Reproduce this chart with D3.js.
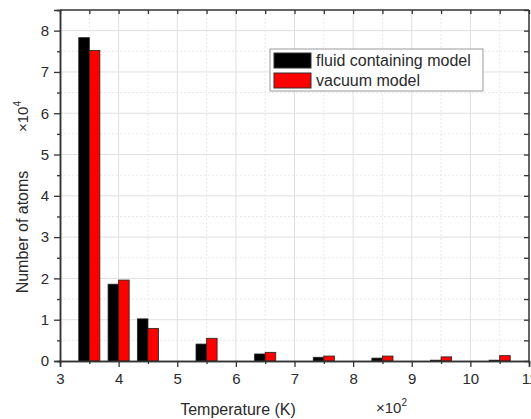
<!DOCTYPE html>
<html>
<head>
<meta charset="utf-8">
<script src="https://cdn.jsdelivr.net/npm/d3@7"></script>
<style>
  body { margin: 0; background: #fff; }
  text { font-family: "Liberation Sans", Arial, sans-serif; fill: #2a2a2a; }
</style>
</head>
<body>
<svg id="chart" width="531" height="419"></svg>
<script>
// bin centers (x100 K) and atom counts (x10^4)
const temps = [3.5, 4.0, 4.5, 5.5, 6.5, 7.5, 8.5, 9.5, 10.5]
const fluid = [7.83, 1.86, 1.02, 0.41, 0.17, 0.09, 0.07, 0.02, 0.02]
const vacuum = [7.52, 1.96, 0.79, 0.55, 0.21, 0.12, 0.12, 0.10, 0.13]
const xTicks = [3, 4, 5, 6, 7, 8, 9, 10, 11]
const yTicks = [0, 1, 2, 3, 4, 5, 6, 7, 8]
const seriesNames = ["fluid containing model", "vacuum model"]
const seriesColors = ["#000000", "#ff0000"]

const svg = d3.select("#chart")
const mLeft = 60, mRight = 529, mTop = 10, mBottom = 361

const x = d3.scaleLinear().domain([3, 11]).range([mLeft, mRight])
const y = d3.scaleLinear().domain([0, 8.5]).range([mBottom, mTop])

const minorX = d3.range(3.5, 11, 1)
const minorY = d3.range(0.5, 8.5, 1)

// grid
const grid = svg.append("g")
grid.selectAll(".gxm").data(minorX).join("line")
  .attr("x1", d => x(d)).attr("x2", d => x(d)).attr("y1", mTop).attr("y2", mBottom)
  .attr("stroke", "#e8e8e8").attr("stroke-dasharray", "2,2")
grid.selectAll(".gym").data(minorY).join("line")
  .attr("y1", d => y(d)).attr("y2", d => y(d)).attr("x1", mLeft).attr("x2", mRight)
  .attr("stroke", "#e8e8e8").attr("stroke-dasharray", "2,2")
grid.selectAll(".gx").data(xTicks.slice(1, -1)).join("line")
  .attr("x1", d => x(d)).attr("x2", d => x(d)).attr("y1", mTop).attr("y2", mBottom)
  .attr("stroke", "#e0e0e0")
grid.selectAll(".gy").data(yTicks.slice(1)).join("line")
  .attr("y1", d => y(d)).attr("y2", d => y(d)).attr("x1", mLeft).attr("x2", mRight)
  .attr("stroke", "#e0e0e0")

// bars
const bw = 0.18
const bars = svg.append("g")
bars.selectAll(".b0").data(temps).join("rect")
  .attr("x", d => x(d - bw)).attr("width", x(bw) - x(0))
  .attr("y", (d, i) => y(fluid[i])).attr("height", (d, i) => y(0) - y(fluid[i]))
  .attr("fill", seriesColors[0]).attr("stroke", "#222").attr("stroke-width", 0.8)
bars.selectAll(".b1").data(temps).join("rect")
  .attr("x", d => x(d)).attr("width", x(bw) - x(0))
  .attr("y", (d, i) => y(vacuum[i])).attr("height", (d, i) => y(0) - y(vacuum[i]))
  .attr("fill", seriesColors[1]).attr("stroke", "#222").attr("stroke-width", 0.8)

// axes
const axColor = "#333"
const xAx = svg.append("g").attr("transform", `translate(0,${mBottom})`)
  .call(d3.axisBottom(x).tickValues(xTicks).tickSize(6).tickPadding(6).tickFormat(d3.format("d")))
const xAxMinor = svg.append("g").attr("transform", `translate(0,${mBottom})`)
  .call(d3.axisBottom(x).tickValues(minorX).tickSize(3).tickFormat(""))
const yAx = svg.append("g").attr("transform", `translate(${mLeft},0)`)
  .call(d3.axisLeft(y).tickValues(yTicks).tickSize(6).tickPadding(5).tickFormat(d3.format("d")))
const yAxMinor = svg.append("g").attr("transform", `translate(${mLeft},0)`)
  .call(d3.axisLeft(y).tickValues(minorY).tickSize(3).tickFormat(""))
const topAx = svg.append("g").attr("transform", `translate(0,${mTop})`)
  .call(d3.axisBottom(x).tickValues(d3.range(3, 11.01, 0.5)).tickSize(4).tickFormat(""))
const rightAx = svg.append("g").attr("transform", `translate(${mRight},0)`)
  .call(d3.axisLeft(y).tickValues(d3.range(0, 8.51, 0.5)).tickSize(5).tickFormat(""))

svg.selectAll(".domain").attr("stroke", axColor).attr("stroke-width", 1.5)
svg.selectAll(".tick line").attr("stroke", axColor).attr("stroke-width", 1.3)
svg.selectAll(".tick text").attr("font-size", 15)
topAx.select(".domain").remove()
rightAx.select(".domain").remove()
svg.append("line").attr("x1", mLeft).attr("x2", mRight).attr("y1", mTop).attr("y2", mTop)
  .attr("stroke", axColor).attr("stroke-width", 1.5)
svg.append("line").attr("x1", mRight).attr("x2", mRight).attr("y1", mTop).attr("y2", mBottom)
  .attr("stroke", axColor).attr("stroke-width", 1.5)

// axis titles
svg.append("text").attr("x", 238).attr("y", 415).attr("text-anchor", "middle")
  .attr("font-size", 16).text("Temperature (K)")
const xm = svg.append("text").attr("x", 376).attr("y", 413).attr("font-size", 15)
xm.append("tspan").text("×10")
xm.append("tspan").attr("font-size", 10).attr("dy", -7).text("2")

svg.append("text").attr("transform", "translate(28,232) rotate(-90)").attr("text-anchor", "middle")
  .attr("font-size", 16).text("Number of atoms")
const ym = svg.append("text").attr("transform", "translate(28,132) rotate(-90)").attr("font-size", 15)
ym.append("tspan").text("×10")
ym.append("tspan").attr("font-size", 10).attr("dy", -7).text("4")

// legend
const lg = svg.append("g").attr("transform", "translate(270,49)")
lg.append("rect").attr("width", 213).attr("height", 42).attr("fill", "#fff").attr("stroke", "#999")
seriesNames.forEach((n, i) => {
  lg.append("rect").attr("x", 4).attr("y", 4 + i * 20).attr("width", 37).attr("height", 15)
    .attr("fill", seriesColors[i]).attr("stroke", "#333")
  lg.append("text").attr("x", 46).attr("y", 17 + i * 20).attr("font-size", 16).text(n)
})
</script>
</body>
</html>
